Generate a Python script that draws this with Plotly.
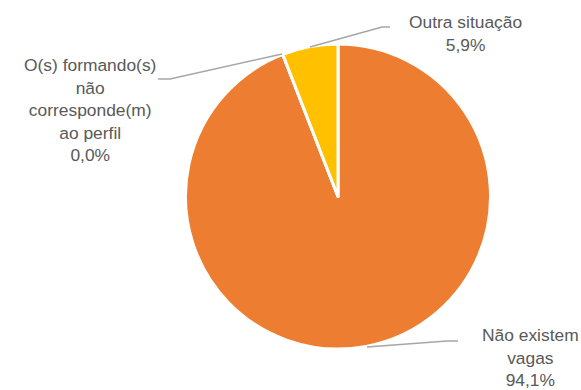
import plotly.graph_objects as go

W, H = 581, 390

labels = ["Não existem vagas", "O(s) formando(s) não corresponde(m) ao perfil", "Outra situação"]
values = [94.1, 0.0, 5.9]
colors = ["#ED7D31", "#4472C4", "#FFC000"]
label_texts = ["Não existem<br>vagas<br>94,1%",
               "O(s) formando(s)<br>não<br>corresponde(m)<br>ao perfil<br>0,0%",
               "Outra situação<br>5,9%"]

def px(x):
    return x / W

def py(y):
    return 1 - y / H

cx, cy, r = 338, 196.5, 152.5

fig = go.Figure(go.Pie(
    labels=labels,
    values=values,
    sort=False,
    direction="clockwise",
    rotation=0,
    textinfo="none",
    hoverinfo="label+percent",
    marker=dict(colors=colors, line=dict(color="white", width=3)),
    domain=dict(x=[px(cx - r), px(cx + r)], y=[py(cy + r), py(cy - r)]),
    showlegend=False,
))

font = dict(family="Liberation Sans, Arial, sans-serif", size=17.4, color="#595959")

label_pos = [(530, 357), (90, 110), (465, 33)]
for txt, (x, y) in zip(label_texts, label_pos):
    fig.add_annotation(x=px(x), y=py(y), xref="paper", yref="paper", text=txt,
                       showarrow=False, font=font, align="center",
                       xanchor="center", yanchor="middle")

leaders = [
    [(367, 347), (447, 341), (458, 341)],
    [(282, 54), (170, 79), (158, 79)],
    [(310, 47), (382, 27), (390, 27)],
]
for pts in leaders:
    path = "M " + " L ".join(f"{px(x)},{py(y)}" for x, y in pts)
    fig.add_shape(type="path", path=path, xref="paper", yref="paper",
                  line=dict(color="#A6A6A6", width=1.5))

fig.update_layout(width=W, height=H, margin=dict(l=0, r=0, t=0, b=0),
                  paper_bgcolor="white", plot_bgcolor="white")

fig.write_html("out.html", config={"displayModeBar": False},
               post_script="document.body.style.margin='0';document.body.style.overflow='hidden';")
